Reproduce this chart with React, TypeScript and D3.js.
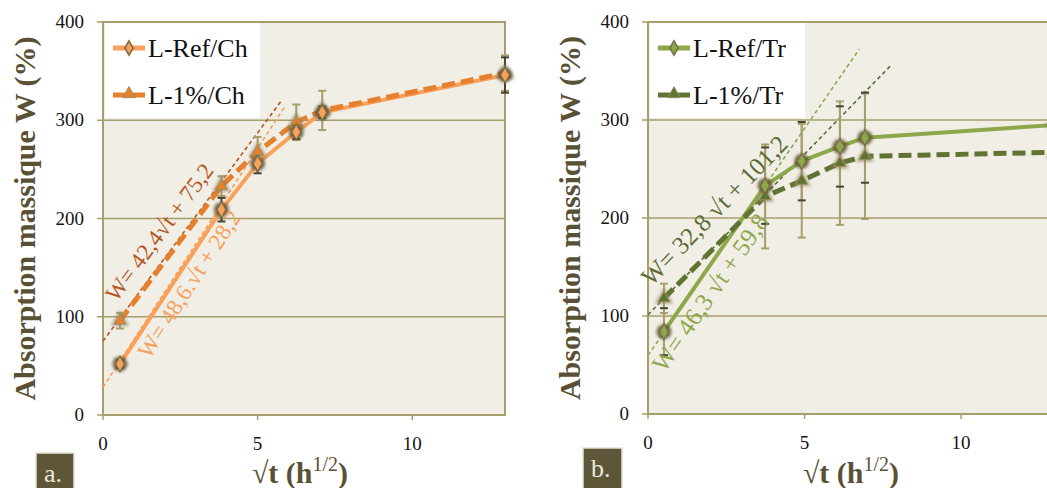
import React from "react";
import * as d3 from "d3";

const W = 1047;
const H = 488;
const FONT = "Liberation Serif, DejaVu Serif, Times New Roman, serif";

const yTicks = [0, 100, 200, 300, 400];
const xTicks = [0, 5, 10];

// ---- Panel a (Ch) ----
const xCh = [0.55, 3.83, 5.0, 6.25, 7.09, 13];
const refCh = [52, 209, 256, 288, 308, 346];
const refChErr = [4, 12, 10, 7, 6, 18];
const pctCh = [96, 233, 268, 298, 310, 348];
const pctChErr = [8, 10, 15, 18, 20, 18];
const trendChSlope = [48.6, 42.4];
const trendChIntercept = [28.2, 75.2];
const trendChEnd = [5.87, 5.8];
const trendChLabel = ["W= 48,6.√t + 28,2", "W= 42,4√t + 75,2"];
const legendCh = ["L-Ref/Ch", "L-1%/Ch"];

// ---- Panel b (Tr) ----
const xTr = [0.51, 3.74, 4.91, 6.13, 6.93, 13];
const refTr = [84, 233, 258, 273, 282, 295];
const refTrErr = [24, 39, 40, 41, 46, 20];
const pctTr = [118, 222, 238, 256, 263, 267];
const pctTrErr = [15, 53, 58, 63, 64, 20];
const trendTrSlope = [46.3, 32.8];
const trendTrIntercept = [59.8, 101.2];
const trendTrEnd = [6.75, 7.73];
const trendTrLabel = ["W= 46,3 √t + 59,8", "W= 32,8 √t + 101,2"];
const legendTr = ["L-Ref/Tr", "L-1%/Tr"];

const BG = "#F1EEE6";
const OLIVE = "#A69E6B";
const DARKERR = "#4A4230";
const TITLE = "#5A5036";

type PanelProps = {
  x0: number; x1: number; y0: number; y1: number;
  xs: number[]; ref: number[]; refErr: number[]; pct: number[]; pctErr: number[];
  slopes: number[]; intercepts: number[]; ends: number[]; labels: string[];
  labelStart: number[]; labelOffset: number[]; labelSize: number[];
  legend: string[];
  refColor: string; pctColor: string; trendColors: string[];
  refErrLine: string; letter: string; letterBox: number[];
  yTitleX: number; tickRight: number; xTitleX: number;
};

function Panel(p: PanelProps) {
  const sx = d3.scaleLinear().domain([0, 13]).range([p.x0, p.x1]);
  const sy = d3.scaleLinear().domain([0, 400]).range([p.y0, p.y1]);
  const line = d3.line<number>().x((_, i) => sx(p.xs[i])).y((d) => sy(d));
  const diamond = d3.symbol().type(d3.symbolDiamond);
  const tri = d3.symbol().type(d3.symbolTriangle);
  const plotW = p.x1 - p.x0;
  const cap = 4;

  const errBars = (vals: number[], errs: number[], lineCol: string, capCol: string) =>
    vals.map((v, i) => {
      const x = sx(p.xs[i]);
      const top = sy(v + errs[i]);
      const bot = sy(v - errs[i]);
      return (
        <g key={i}>
          <line x1={x} x2={x} y1={top} y2={bot} stroke={lineCol} strokeWidth={2} />
          <line x1={x - cap} x2={x + cap} y1={top} y2={top} stroke={capCol} strokeWidth={2} />
          <line x1={x - cap} x2={x + cap} y1={bot} y2={bot} stroke={capCol} strokeWidth={2} />
        </g>
      );
    });

  return (
    <g style={{ fontFamily: FONT }}>
      <rect x={p.x0} y={p.y1} width={plotW} height={p.y0 - p.y1} fill={BG} />
      {yTicks.slice(1).map((t) => (
        <line key={t} x1={p.x0} x2={p.x1} y1={sy(t)} y2={sy(t)} stroke={OLIVE} strokeWidth={1.5} />
      ))}
      <rect x={p.x0} y={p.y1} width={plotW} height={p.y0 - p.y1} fill="none" stroke={OLIVE} strokeWidth={2} />
      {yTicks.map((t) => (
        <g key={t}>
          <line x1={p.x0 - 6} x2={p.x0} y1={sy(t)} y2={sy(t)} stroke={OLIVE} strokeWidth={1.5} />
          <text x={p.tickRight} y={sy(t) + 6} textAnchor="end" fontSize={19} fill="#151515">{t}</text>
        </g>
      ))}
      {xTicks.map((t) => (
        <g key={t}>
          <line x1={sx(t)} x2={sx(t)} y1={p.y0} y2={p.y0 + 5} stroke={OLIVE} strokeWidth={1.5} />
          <text x={sx(t)} y={p.y0 + 35} textAnchor="middle" fontSize={19} fill="#151515">{t}</text>
        </g>
      ))}

      {/* trend lines */}
      {p.slopes.map((a, k) => (
        <line key={k} x1={sx(0)} y1={sy(p.intercepts[k])} x2={sx(p.ends[k])} y2={sy(a * p.ends[k] + p.intercepts[k])}
          stroke={p.trendColors[k]} strokeWidth={1.6} strokeDasharray="4,3" />
      ))}

      {/* series lines */}
      <path d={line(p.ref) || ""} fill="none" stroke={p.refColor} strokeWidth={4} strokeLinejoin="round" />
      <path d={line(p.pct) || ""} fill="none" stroke={p.pctColor} strokeWidth={5} strokeDasharray="13,6" />

      {/* error bars */}
      {errBars(p.pct, p.pctErr, OLIVE, OLIVE)}
      {errBars(p.ref, p.refErr, p.refErrLine, DARKERR)}

      {/* markers */}
      {p.pct.map((v, i) => (
        <g key={"t" + i} transform={`translate(${sx(p.xs[i])},${sy(v)})`}>
          <path d={tri.size(150)() || ""} fill="#8C7E55" opacity={0.6} filter="url(#blurM)" />
          <path d={tri.size(60)() || ""} fill={p.pctColor} stroke="#9A8F60" strokeWidth={1} />
        </g>
      ))}
      {p.ref.map((v, i) => (
        <g key={"d" + i} transform={`translate(${sx(p.xs[i])},${sy(v)})`}>
          <circle r={7.5} fill="#5E5232" opacity={0.85} filter="url(#blurM)" />
          <path d={diamond.size(70)() || ""} fill={p.refColor} stroke="#7A6C45" strokeWidth={1.2} />
        </g>
      ))}

      {/* trend labels */}
      {p.slopes.map((a, k) => {
        const xs0 = p.labelStart[k];
        const px = sx(xs0);
        const py = sy(a * xs0 + p.intercepts[k]);
        const dyPx = sy(a) - sy(0);
        const dxPx = sx(1) - sx(0);
        const ang = (Math.atan2(dyPx, dxPx) * 180) / Math.PI;
        return (
          <text key={k} transform={`translate(${px},${py}) rotate(${ang})`} y={p.labelOffset[k]}
            fontSize={p.labelSize[k]} fill={p.trendColors[k]}>{p.labels[k]}</text>
        );
      })}

      {/* legend */}
      <rect x={p.x0 + 2} y={p.y1 + 1} width={155} height={95} fill="#FFFFFF" />
      {p.legend.map((name, k) => {
        const ly = p.y1 + 26 + k * 47;
        const lx = p.x0 + 10;
        const col = k === 0 ? p.refColor : p.pctColor;
        return (
          <g key={name}>
            <line x1={lx} x2={lx + 32} y1={ly} y2={ly} stroke={col} strokeWidth={5} />
            {k === 0 ? (
              <path transform={`translate(${lx + 16},${ly})`} d={diamond.size(60)() || ""} fill={col} stroke="#7A6C45" strokeWidth={1.5} />
            ) : (
              <path transform={`translate(${lx + 16},${ly - 1})`} d={tri.size(70)() || ""} fill={col} stroke="#9A8F60" strokeWidth={1} />
            )}
            <text x={lx + 35} y={ly + 9} fontSize={26} fill="#111">{name}</text>
          </g>
        );
      })}

      {/* axis titles */}
      <text transform={`translate(${p.yTitleX},${(p.y0 + p.y1) / 2}) rotate(-90)`} textAnchor="middle"
        fontSize={30} fontWeight="bold" fill={TITLE} textLength={364} lengthAdjust="spacingAndGlyphs">
        Absorption massique W (%)
      </text>
      <text x={p.xTitleX} y={483} textAnchor="middle" fill={TITLE}>
        <tspan fontSize={30} fontWeight="bold">√t (h</tspan>
        <tspan fontSize={20} dy={-12}>1/2</tspan>
        <tspan fontSize={30} fontWeight="bold" dy={12}>)</tspan>
      </text>

      {/* panel letter */}
      <rect x={p.letterBox[0]} y={p.letterBox[1]} width={p.letterBox[2]} height={60} fill="#5E5638" stroke="#E6E2D4" strokeWidth={1.5} />
      <text x={p.letterBox[0] + 8} y={p.letterBox[1] + 29} fontSize={26} fill="#ECE8DC">{p.letter}</text>
    </g>
  );
}

export default function App() {
  return (
    <svg width={W} height={H} style={{ position: "absolute", left: 0, top: 0, background: "#fff" }}>
      <defs>
        <filter id="blurM" x="-50%" y="-50%" width="200%" height="200%">
          <feGaussianBlur stdDeviation="1.4" />
        </filter>
      </defs>
      <Panel
        x0={103} x1={505} y0={415} y1={22}
        xs={xCh} ref={refCh} refErr={refChErr} pct={pctCh} pctErr={pctChErr}
        slopes={trendChSlope} intercepts={trendChIntercept} ends={trendChEnd} labels={trendChLabel}
        labelStart={[0.85, 0.75]} labelOffset={[24, -12]} labelSize={[23, 23]}
        legend={legendCh}
        refColor="#F9A05A" pctColor="#E5802F" trendColors={["#F7A059", "#B5561F"]}
        refErrLine={DARKERR} letter="a." letterBox={[36, 453, 38]}
        yTitleX={35} tickRight={84} xTitleX={300}
      />
      <Panel
        x0={648} x1={1055} y0={414} y1={22}
        xs={xTr} ref={refTr} refErr={refTrErr} pct={pctTr} pctErr={pctTrErr}
        slopes={trendTrSlope} intercepts={trendTrIntercept} ends={trendTrEnd} labels={trendTrLabel}
        labelStart={[-0.1, 0.5]} labelOffset={[24, -17]} labelSize={[25, 25]}
        legend={legendTr}
        refColor="#8CA84B" pctColor="#5F7431" trendColors={["#8CA84B", "#5A6B35"]}
        refErrLine={OLIVE} letter="b." letterBox={[583, 448, 39]}
        yTitleX={580} tickRight={629} xTitleX={851}
      />
    </svg>
  );
}
